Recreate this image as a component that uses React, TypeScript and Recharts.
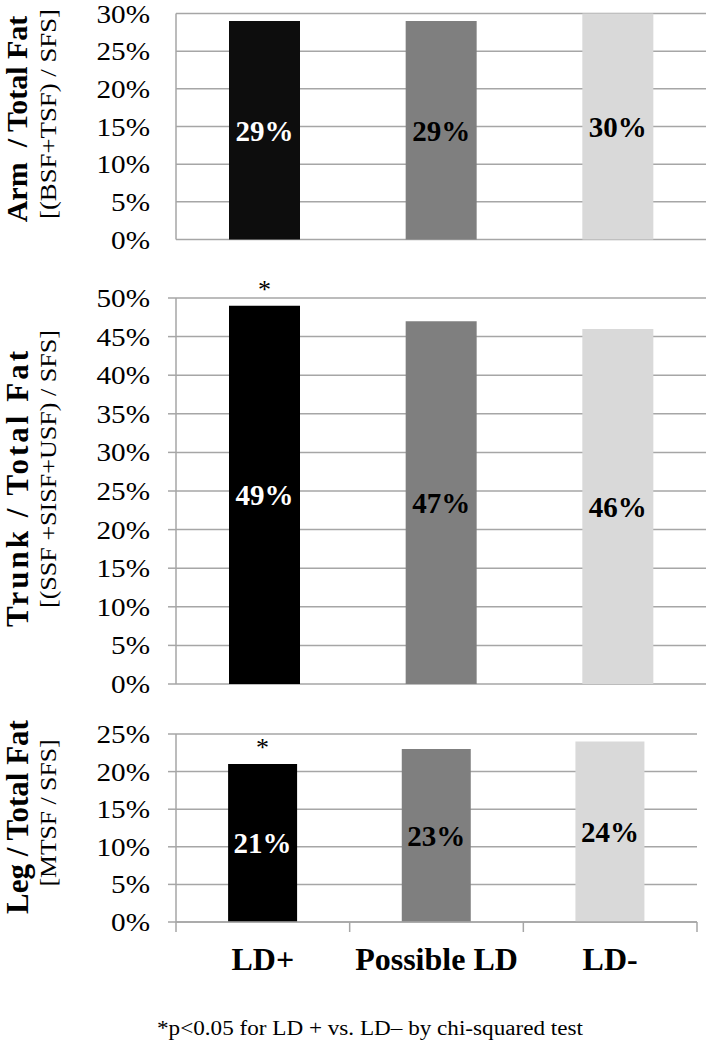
import React from 'react';
import { BarChart, Bar, XAxis, YAxis, CartesianGrid, LabelList, Cell } from 'recharts';

const categories = ['LD+', 'Possible LD', 'LD-'];
const armValues = [29, 29, 30];
const trunkValues = [49, 47, 46];
const legValues = [21, 23, 24];
const armMarks = ['', '', ''];
const trunkMarks = ['*', '', ''];
const legMarks = ['*', '', ''];
const armTicks = [0, 5, 10, 15, 20, 25, 30];
const trunkTicks = [0, 5, 10, 15, 20, 25, 30, 35, 40, 45, 50];
const legTicks = [0, 5, 10, 15, 20, 25];
const panelTitles = ['Arm  / Total Fat', 'Trunk / Total Fat', 'Leg / Total Fat'];
const panelSubtitles = ['[(BSF+TSF) / SFS]', '[(SSF +SISF+USF) / SFS]', '[MTSF / SFS]'];
const footnote = '*p<0.05 for LD + vs. LD\u2013 by chi-squared test';

const FONT = "'Liberation Serif', 'Times New Roman', Times, serif";
const GRID = '#a6a6a6';
const labelFills = ['#ffffff', '#000000', '#000000'];

const buildRows = (values: number[], marks: string[]) =>
  categories.map((cat, i) => ({ cat, value: values[i], mark: marks[i] }));

const YTick = (props: any) => {
  const { x, y, payload } = props;
  return (
    <g transform={`translate(${x},${y}) scale(1.17,1)`}>
      <text x={0} y={0} dy="0.36em" textAnchor="end" fontFamily={FONT} fontSize={25} fill="#000">
        {payload.value}%
      </text>
    </g>
  );
};

const XTick = (props: any) => {
  const { x, y, payload, width, visibleTicksCount, index } = props;
  const band = width && visibleTicksCount ? width / visibleTicksCount : 2 * (payload.offset || 0);
  const left = x - band / 2;
  const right = x + band / 2;
  return (
    <g>
      <line x1={left} x2={left} y1={y - 10} y2={y} stroke={GRID} strokeWidth={1.5} />
      {index === visibleTicksCount - 1 && (
        <line x1={right} x2={right} y1={y - 10} y2={y} stroke={GRID} strokeWidth={1.5} />
      )}
      <text x={x} y={y + 38} textAnchor="middle" fontFamily={FONT} fontWeight="bold" fontSize={32} fill="#000">
        {payload.value}
      </text>
    </g>
  );
};

const ValueLabel = (props: any) => {
  const vb = props.viewBox && props.viewBox.width !== undefined ? props.viewBox : props;
  const { x, y, width, height } = vb;
  const idx = props.index ?? 0;
  return (
    <text
      x={x + width / 2}
      y={y + height / 2}
      dy="0.36em"
      textAnchor="middle"
      fontFamily={FONT}
      fontWeight="bold"
      fontSize={29}
      fill={labelFills[idx]}
    >
      {props.value}%
    </text>
  );
};

type PanelProps = {
  values: number[];
  marks: string[];
  ticks: number[];
  max: number;
  top: number;
  height: number;
  margin: { top: number; right: number; bottom: number; left: number };
  fills: string[];
  showX: boolean;
  leftTicks: boolean;
};

const Panel = ({ values, marks, ticks, max, top, height, margin, fills, showX, leftTicks }: PanelProps) => {
  const rows = buildRows(values, marks);
  return (
    <div style={{ position: 'absolute', left: 0, top, width: 706, height }}>
      <BarChart width={706} height={height} data={rows} margin={margin} barCategoryGap="30%">
        <CartesianGrid vertical={false} stroke={GRID} strokeWidth={1.5} />
        {showX ? (
          <XAxis
            dataKey="cat"
            height={80}
            axisLine={{ stroke: GRID, strokeWidth: 1.5 }}
            tickLine={false}
            tickSize={10}
            tickMargin={0}
            tick={<XTick />}
            interval={0}
          />
        ) : (
          <XAxis dataKey="cat" hide />
        )}
        <YAxis
          width={176}
          domain={[0, max]}
          ticks={ticks}
          interval={0}
          axisLine={{ stroke: GRID, strokeWidth: 1.5 }}
          tickLine={leftTicks ? { stroke: GRID, strokeWidth: 1.5 } : false}
          tickSize={8}
          tickMargin={18}
          tick={<YTick />}
        />
        <Bar dataKey="value" isAnimationActive={false}>
          {rows.map((r, i) => (
            <Cell key={r.cat} fill={fills[i]} />
          ))}
          <LabelList dataKey="value" content={<ValueLabel />} />
          <LabelList
            dataKey="mark"
            position="top"
            offset={8}
            fontFamily={FONT}
            fontSize={26}
            fill="#000"
          />
        </Bar>
      </BarChart>
    </div>
  );
};

const titleCenters = [119, 489, 817];
const titleSizes = [30, 31, 31];
const titleBaselines = [27, 28, 28];
const subtitleCenters = [114, 469, 813];
const subtitleLengths = [210, 278, 147];

export default function App() {
  return (
    <div style={{ position: 'absolute', left: 0, top: 0, width: 706, height: 1050, background: '#fff', overflow: 'hidden' }}>
      <Panel
        values={armValues}
        marks={armMarks}
        ticks={armTicks}
        max={30}
        top={0}
        height={262}
        margin={{ top: 13.5, right: 0, bottom: 22.5, left: 0 }}
        fills={['#0d0d0d', '#7f7f7f', '#d9d9d9']}
        showX={false}
        leftTicks={false}
      />
      <Panel
        values={trunkValues}
        marks={trunkMarks}
        ticks={trunkTicks}
        max={50}
        top={266}
        height={438}
        margin={{ top: 32, right: 0, bottom: 20, left: 0 }}
        fills={['#000000', '#7f7f7f', '#d9d9d9']}
        showX={false}
        leftTicks={true}
      />
      <Panel
        values={legValues}
        marks={legMarks}
        ticks={legTicks}
        max={25}
        top={712}
        height={290}
        margin={{ top: 22, right: 9, bottom: 0, left: 0 }}
        fills={['#000000', '#7f7f7f', '#d9d9d9']}
        showX={true}
        leftTicks={true}
      />
      <svg
        width={706}
        height={1050}
        style={{ position: 'absolute', left: 0, top: 0, pointerEvents: 'none' }}
      >
        {panelTitles.map((t, i) => (
          <text
            key={t}
            transform={`translate(${titleBaselines[i]},${titleCenters[i]}) rotate(-90)`}
            textAnchor="middle"
            fontFamily={FONT}
            fontWeight="bold"
            fontSize={titleSizes[i]}
            fill="#000"
            style={{ whiteSpace: 'pre' }}
            {...(i === 1 ? { textLength: 276, lengthAdjust: 'spacing' } : {})}
          >
            {t}
          </text>
        ))}
        {panelSubtitles.map((t, i) => (
          <text
            key={t}
            transform={`translate(56,${subtitleCenters[i]}) rotate(-90)`}
            textAnchor="middle"
            fontFamily={FONT}
            fontSize={24}
            fill="#000"
            textLength={subtitleLengths[i]}
            lengthAdjust="spacingAndGlyphs"
          >
            {t}
          </text>
        ))}
        <text x={157} y={1035} fontFamily={FONT} fontSize={20} fill="#000" textLength={426} lengthAdjust="spacingAndGlyphs">
          {footnote}
        </text>
      </svg>
    </div>
  );
}
